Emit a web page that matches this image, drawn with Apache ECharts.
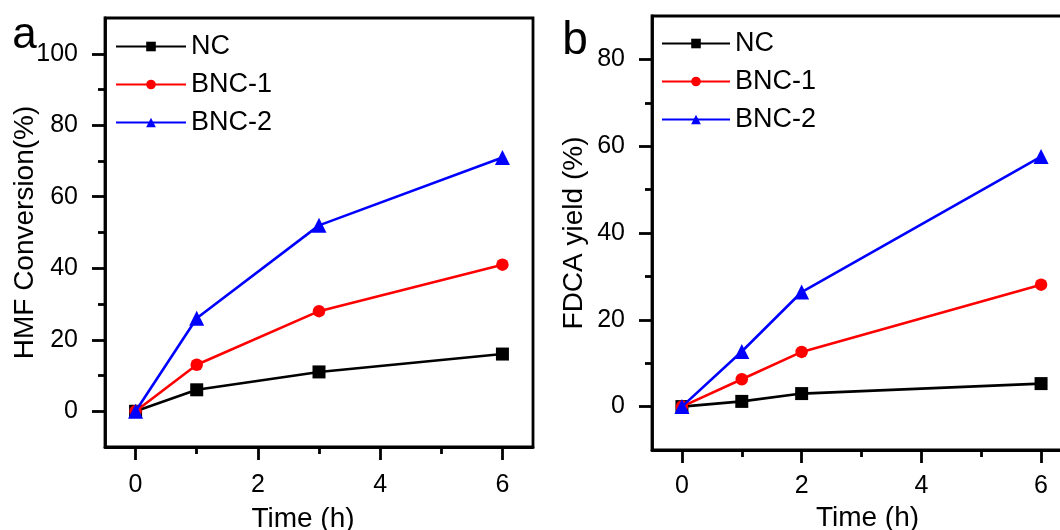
<!DOCTYPE html>
<html>
<head>
<meta charset="utf-8">
<script src="https://cdn.jsdelivr.net/npm/echarts@6/dist/echarts.min.js"></script>
<style>
html,body{margin:0;padding:0;background:#fff;}
#chart{width:1060px;height:530px;}
</style>
</head>
<body>
<div id="chart"></div>
<script>
// ---- data ----
const seriesNames = ['NC', 'BNC-1', 'BNC-2'];
const seriesColors = ['#000000', '#ff0000', '#0000ff'];
const seriesSymbols = ['rect', 'circle', 'triangle'];

const timeA = [0, 1, 3, 6];
const ncA = [0, 6, 11, 16];
const bnc1A = [0, 13, 28, 41];
const bnc2A = [0, 26, 52, 71];

const timeB = [0, 1, 2, 6];
const ncB = [0, 1.2, 3, 5.3];
const bnc1B = [0, 6.3, 12.6, 28.1];
const bnc2B = [0, 12.7, 26.4, 57.6];

const xMajorTicks = [0, 2, 4, 6];
const xMinorTicks = [1, 3, 5];
const yMajorA = [0, 20, 40, 60, 80, 100];
const yMinorA = [10, 30, 50, 70, 90];
const yMajorB = [0, 20, 40, 60, 80];
const yMinorB = [10, 30, 50, 70];

const xTitle = 'Time (h)';
const yTitleA = 'HMF Conversion(%)';
const yTitleB = 'FDCA yield (%)';

// ---- chart ----
const FONT = '"Liberation Sans", Arial, Helvetica, sans-serif';
const AXW = 2.8;

function pairs(xs, ys) { return xs.map((x, i) => [x, ys[i]]); }

function xAxes(grid, nameGap, labelMargin, namePadding) {
  return [
    {
      gridIndex: grid, type: 'value', position: 'bottom', min: -0.5, max: 6.5,
      axisLine: { onZero: false, lineStyle: { color: '#000', width: AXW } },
      axisTick: { customValues: xMajorTicks, length: 13, lineStyle: { color: '#000', width: AXW } },
      axisLabel: { customValues: xMajorTicks, color: '#000', fontSize: 25, fontFamily: FONT, margin: labelMargin },
      splitLine: { show: false },
      name: xTitle, nameLocation: 'middle', nameGap: nameGap, nameMoveOverlap: false,
      nameTextStyle: { color: '#000', fontSize: 28, fontFamily: FONT, padding: namePadding }
    },
    {
      gridIndex: grid, type: 'value', position: 'bottom', min: -0.5, max: 6.5,
      axisLine: { show: false, onZero: false },
      axisTick: { customValues: xMinorTicks, length: 7, lineStyle: { color: '#000', width: AXW } },
      axisLabel: { show: false },
      splitLine: { show: false }
    }
  ];
}

function yAxes(grid, min, max, major, minor, title, nameGap) {
  return [
    {
      gridIndex: grid, type: 'value', position: 'left', min: min, max: max,
      axisLine: { onZero: false, lineStyle: { color: '#000', width: AXW } },
      axisTick: { customValues: major, length: 13, lineStyle: { color: '#000', width: AXW } },
      axisLabel: { customValues: major, color: '#000', fontSize: 25, fontFamily: FONT, margin: 27 },
      splitLine: { show: false },
      name: title, nameLocation: 'middle', nameGap: nameGap, nameRotate: 90, nameMoveOverlap: false,
      nameTextStyle: { color: '#000', fontSize: 28, fontFamily: FONT }
    },
    {
      gridIndex: grid, type: 'value', position: 'left', min: min, max: max,
      axisLine: { show: false, onZero: false },
      axisTick: { customValues: minor, length: 7, lineStyle: { color: '#000', width: AXW } },
      axisLabel: { show: false },
      splitLine: { show: false }
    }
  ];
}

function makeSeries(xIdx, yIdx, xs, dataList) {
  return dataList.map((ys, i) => ({
    type: 'line', name: seriesNames[i], xAxisIndex: xIdx, yAxisIndex: yIdx,
    data: pairs(xs, ys),
    symbol: seriesSymbols[i],
    symbolSize: seriesSymbols[i] === 'triangle' ? 15 : (seriesSymbols[i] === 'rect' ? 13 : 12.5),
    showAllSymbol: true,
    lineStyle: { color: seriesColors[i], width: 2.6 },
    itemStyle: { color: seriesColors[i] },
    emphasis: { disabled: true },
    animation: false,
    z: 2 + i
  }));
}

function legendAt(left, top, itemWidth) {
  return {
    orient: 'vertical', left: left, top: top, padding: 0,
    itemWidth: itemWidth, itemHeight: 12, itemGap: 11,
    selectedMode: false,
    data: seriesNames,
    textStyle: { color: '#000', fontSize: 27, fontFamily: FONT, lineHeight: 26 }
  };
}

const chart = echarts.init(document.getElementById('chart'), null, { renderer: 'canvas' });
chart.setOption({
  backgroundColor: '#fff',
  animation: false,
  grid: [
    { left: 105, top: 18, width: 428, height: 429, outerBoundsMode: 'none', containLabel: false, show: true, borderColor: '#000', borderWidth: AXW, backgroundColor: 'transparent' },
    { left: 652, top: 16, width: 419, height: 434, outerBoundsMode: 'none', containLabel: false, show: true, borderColor: '#000', borderWidth: AXW, backgroundColor: 'transparent' }
  ],
  xAxis: [].concat(xAxes(0, 58, 26, [0, 32, 0, 0]), xAxes(1, 54, 24, [0, 0, 0, 12])),
  yAxis: [].concat(
    yAxes(0, -10, 110, yMajorA, yMinorA, yTitleA, 66),
    yAxes(1, -10, 90, yMajorB, yMinorB, yTitleB, 64)
  ),
  legend: [legendAt(115, 33, 70), legendAt(661, 30, 68)],
  graphic: [
    { type: 'text', x: 24.5, y: 36, style: { text: 'a', font: '44px ' + FONT, fill: '#000', align: 'center', verticalAlign: 'middle' } },
    { type: 'text', x: 575, y: 41, style: { text: 'b', font: '46px ' + FONT, fill: '#000', align: 'center', verticalAlign: 'middle' } }
  ],
  series: [].concat(
    makeSeries(0, 0, timeA, [ncA, bnc1A, bnc2A]),
    makeSeries(2, 2, timeB, [ncB, bnc1B, bnc2B])
  )
});
</script>
</body>
</html>
